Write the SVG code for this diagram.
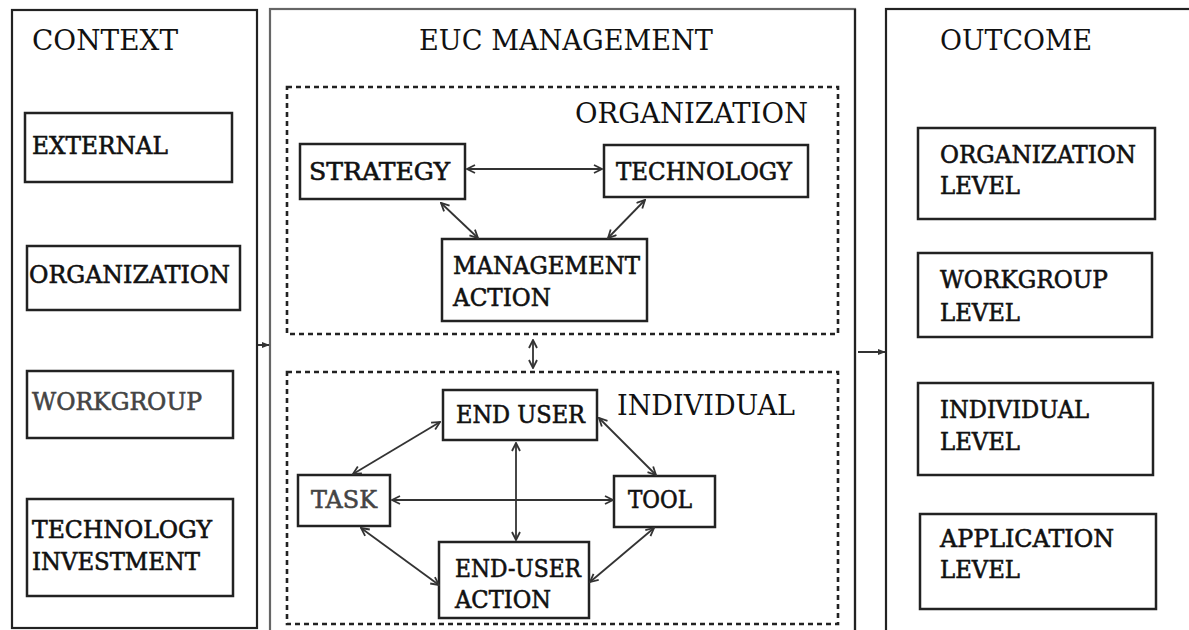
<svg xmlns="http://www.w3.org/2000/svg" width="1189" height="630" viewBox="0 0 1189 630">
<defs>
<marker id="ah" viewBox="0 0 10 10" refX="9" refY="5" markerWidth="10" markerHeight="10" markerUnits="userSpaceOnUse" orient="auto-start-reverse">
<path d="M1,1 L9,5 L1,9" fill="none" stroke="#333" stroke-width="1.8"/>
</marker>
<marker id="fh" viewBox="0 0 10 10" refX="9" refY="5" markerWidth="8" markerHeight="8" markerUnits="userSpaceOnUse" orient="auto">
<path d="M0,1 L10,5 L0,9 Z" fill="#333"/>
</marker>
<style>
.panel{fill:none;stroke:#222;stroke-width:2.2}
.box{fill:#fff;stroke:#222;stroke-width:2.5}
.dot{fill:none;stroke:#222;stroke-width:2.6;stroke-dasharray:5 4}
.h{font-family:"DejaVu Serif","Liberation Serif",serif;font-size:27px;fill:#111}
.t{font-family:"DejaVu Serif","Liberation Serif",serif;font-size:24px;fill:#111;stroke:#111;stroke-width:0.6}
.g{fill:#444;stroke:#444}
.c{fill:none;stroke:#333;stroke-width:1.8;marker-start:url(#ah);marker-end:url(#ah)}
.s{fill:none;stroke:#333;stroke-width:2;marker-end:url(#fh)}
</style>
</defs>
<rect width="1189" height="630" fill="#fff"/>

<g id="context">
<rect class="panel" x="12" y="10" width="245" height="618"/>
<text class="h" x="32" y="50" textLength="146" lengthAdjust="spacingAndGlyphs">CONTEXT</text>
</g>
<g id="external">
<rect class="box" x="25" y="113" width="207" height="69"/>
<text class="t" x="32" y="154" textLength="136" lengthAdjust="spacingAndGlyphs">EXTERNAL</text>
</g>
<g id="ctx-organization">
<rect class="box" x="27" y="246" width="213" height="64"/>
<text class="t" x="29" y="283" textLength="201" lengthAdjust="spacingAndGlyphs">ORGANIZATION</text>
</g>
<g id="ctx-workgroup">
<rect class="box" x="27" y="371" width="206" height="67"/>
<text class="t g" x="32" y="410" textLength="170" lengthAdjust="spacingAndGlyphs">WORKGROUP</text>
</g>
<g id="tech-investment">
<rect class="box" x="27" y="499" width="206" height="97"/>
<text class="t" x="32" y="538" textLength="180" lengthAdjust="spacingAndGlyphs">TECHNOLOGY</text>
<text class="t" x="32" y="570" textLength="168" lengthAdjust="spacingAndGlyphs">INVESTMENT</text>
</g>

<g id="euc-management">
<rect x="270" y="9" width="585" height="640" fill="none" stroke="#666" stroke-width="2.2"/>
<line x1="855" y1="9" x2="855" y2="640" stroke="#222" stroke-width="2.2"/>
<text class="h" x="419" y="50" textLength="294" lengthAdjust="spacingAndGlyphs">EUC MANAGEMENT</text>
</g>
<g id="org-group">
<rect class="dot" x="287" y="87" width="551" height="247"/>
<text class="h" x="575" y="123" textLength="233" lengthAdjust="spacingAndGlyphs">ORGANIZATION</text>
</g>
<g id="strategy">
<rect class="box" x="300" y="144" width="165" height="55"/>
<text class="t" x="309" y="180" textLength="141" lengthAdjust="spacingAndGlyphs">STRATEGY</text>
</g>
<g id="technology">
<rect class="box" x="604" y="145" width="204" height="52"/>
<text class="t" x="616" y="180" textLength="176" lengthAdjust="spacingAndGlyphs">TECHNOLOGY</text>
</g>
<g id="management-action">
<rect class="box" x="442" y="239" width="205" height="82"/>
<text class="t" x="453" y="274" textLength="187" lengthAdjust="spacingAndGlyphs">MANAGEMENT</text>
<text class="t" x="453" y="306" textLength="98" lengthAdjust="spacingAndGlyphs">ACTION</text>
</g>

<g id="individual-group">
<rect class="dot" x="287" y="372" width="551" height="252"/>
<text class="h" x="617" y="415" textLength="178" lengthAdjust="spacingAndGlyphs">INDIVIDUAL</text>
</g>
<g id="end-user">
<rect class="box" x="443" y="390" width="154" height="50"/>
<text class="t" x="456" y="423" textLength="129" lengthAdjust="spacingAndGlyphs">END USER</text>
</g>
<g id="task">
<rect class="box" x="298" y="475" width="92" height="51"/>
<text class="t g" x="311" y="508" textLength="66" lengthAdjust="spacingAndGlyphs">TASK</text>
</g>
<g id="tool">
<rect class="box" x="614" y="476" width="101" height="51"/>
<text class="t" x="628" y="508" textLength="64" lengthAdjust="spacingAndGlyphs">TOOL</text>
</g>
<g id="end-user-action">
<rect class="box" x="439" y="542" width="150" height="76"/>
<text class="t" x="455" y="577" textLength="126" lengthAdjust="spacingAndGlyphs">END-USER</text>
<text class="t" x="455" y="608" textLength="96" lengthAdjust="spacingAndGlyphs">ACTION</text>
</g>

<g id="outcome">
<rect class="panel" x="886" y="9" width="330" height="640"/>
<text class="h" x="940" y="50" textLength="152" lengthAdjust="spacingAndGlyphs">OUTCOME</text>
</g>
<g id="org-level">
<rect class="box" x="918" y="128" width="237" height="91"/>
<text class="t" x="940" y="163" textLength="196" lengthAdjust="spacingAndGlyphs">ORGANIZATION</text>
<text class="t" x="940" y="194" textLength="80" lengthAdjust="spacingAndGlyphs">LEVEL</text>
</g>
<g id="workgroup-level">
<rect class="box" x="918" y="253" width="234" height="84"/>
<text class="t" x="940" y="288" textLength="168" lengthAdjust="spacingAndGlyphs">WORKGROUP</text>
<text class="t" x="940" y="321" textLength="80" lengthAdjust="spacingAndGlyphs">LEVEL</text>
</g>
<g id="individual-level">
<rect class="box" x="918" y="383" width="235" height="92"/>
<text class="t" x="940" y="418" textLength="149" lengthAdjust="spacingAndGlyphs">INDIVIDUAL</text>
<text class="t" x="940" y="450" textLength="80" lengthAdjust="spacingAndGlyphs">LEVEL</text>
</g>
<g id="application-level">
<rect class="box" x="920" y="514" width="236" height="95"/>
<text class="t" x="940" y="547" textLength="174" lengthAdjust="spacingAndGlyphs">APPLICATION</text>
<text class="t" x="940" y="578" textLength="80" lengthAdjust="spacingAndGlyphs">LEVEL</text>
</g>

<g id="connectors">
<line class="s" x1="258" y1="345" x2="269" y2="345"/>
<line class="s" x1="858" y1="352" x2="885" y2="352"/>
<line class="c" x1="467" y1="169" x2="602" y2="169"/>
<line class="c" x1="441" y1="203" x2="478" y2="238"/>
<line class="c" x1="645" y1="200" x2="608" y2="238"/>
<line class="c" x1="533" y1="340" x2="533" y2="368"/>
<line class="c" x1="392" y1="500" x2="613" y2="500"/>
<line class="c" x1="516" y1="443" x2="516" y2="540"/>
<line class="c" x1="440" y1="422" x2="353" y2="474"/>
<line class="c" x1="599" y1="418" x2="656" y2="475"/>
<line class="c" x1="361" y1="528" x2="439" y2="585"/>
<line class="c" x1="654" y1="528" x2="590" y2="582"/>
</g>
</svg>
